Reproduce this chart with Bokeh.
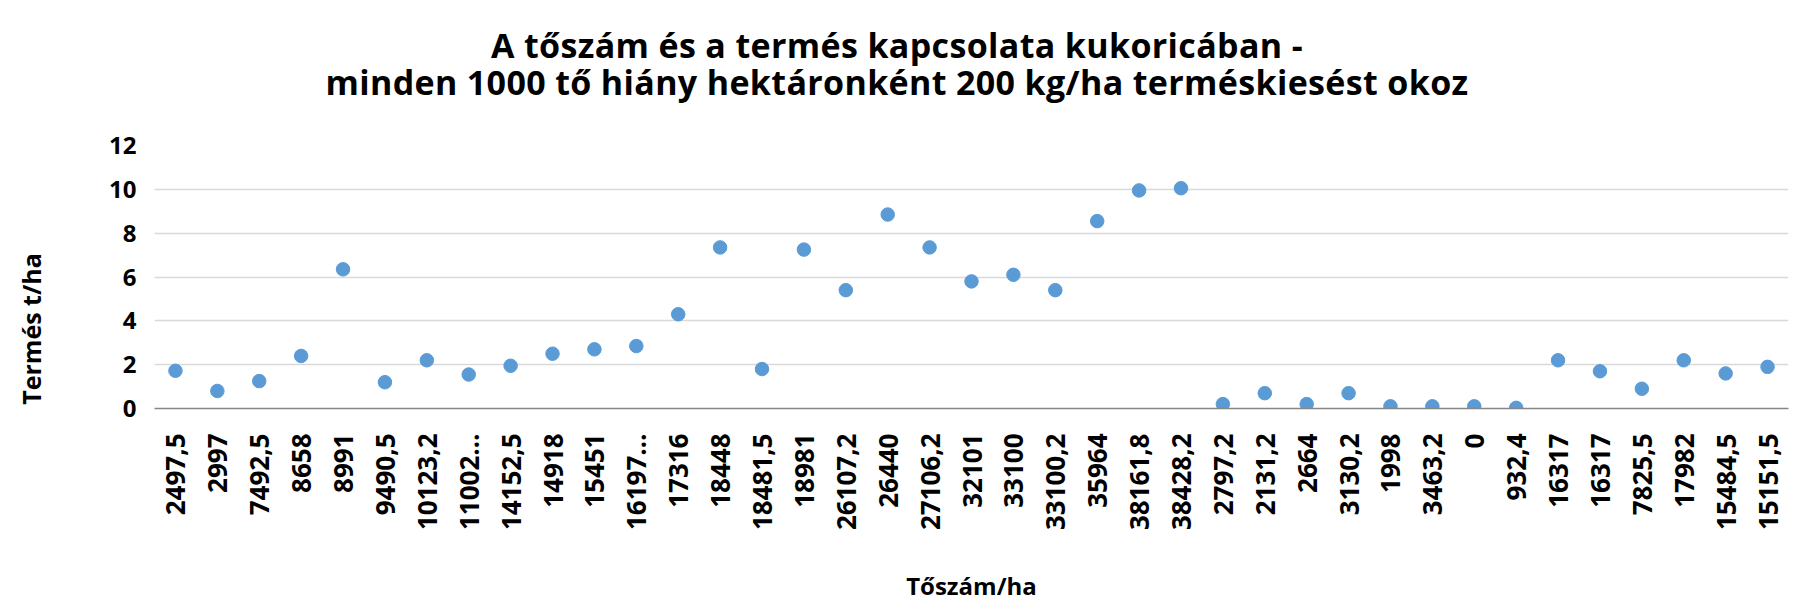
import math
from bokeh.plotting import figure
from bokeh.models import Range1d, FixedTicker, Div
from bokeh.layouts import column
from bokeh.embed import file_html
from bokeh.resources import INLINE

title_lines = [
    "A tőszám és a termés kapcsolata kukoricában -",
    "minden 1000 tő hiány hektáronként 200 kg/ha terméskiesést okoz",
]
x_title = "Tőszám/ha"
y_title = "Termés t/ha"

x_labels = [
    "2497,5", "2997", "7492,5", "8658", "8991", "9490,5", "10123,2", "11002…",
    "14152,5", "14918", "15451", "16197…", "17316", "18448", "18481,5", "18981",
    "26107,2", "26440", "27106,2", "32101", "33100", "33100,2", "35964", "38161,8",
    "38428,2", "2797,2", "2131,2", "2664", "3130,2", "1998", "3463,2", "0",
    "932,4", "16317", "16317", "7825,5", "17982", "15484,5", "15151,5",
]
yields = [
    1.72, 0.8, 1.25, 2.4, 6.35, 1.2, 2.2, 1.55,
    1.95, 2.5, 2.7, 2.85, 4.3, 7.35, 1.8, 7.25,
    5.4, 8.85, 7.35, 5.8, 6.1, 5.4, 8.55, 9.95,
    10.05, 0.2, 0.7, 0.2, 0.7, 0.1, 0.1, 0.1,
    0.03, 2.2, 1.7, 0.9, 2.2, 1.6, 1.9,
]
y_ticks = [0, 2, 4, 6, 8, 10, 12]

positions = list(range(len(x_labels)))
FONT = "Open Sans"
W = 1794

title_div = Div(
    text="<br>".join(title_lines),
    width=W, height=110, margin=(0, 0, 0, 0),
    styles={
        "text-align": "center", "font-family": "'Open Sans'", "font-weight": "bold",
        "font-size": "34px", "line-height": "37px", "color": "black",
        "letter-spacing": "0.35px",
        "padding-top": "27px", "box-sizing": "border-box", "width": f"{W}px",
    },
)

p = figure(
    width=W, height=495, output_backend="svg", toolbar_location=None,
    x_range=Range1d(-0.5, len(x_labels) - 0.5), y_range=Range1d(0, 12),
    min_border_left=154, min_border_right=6, min_border_top=35, min_border_bottom=195,
    margin=(0, 0, 0, 0),
)
p.outline_line_color = None
p.background_fill_color = "white"
p.border_fill_color = "white"

p.scatter(positions, yields, size=13.5, color="#5B9BD5", line_color="#5B9BD5")

# grid
p.xgrid.grid_line_color = None
p.ygrid.grid_line_color = "#D9D9D9"
p.ygrid.grid_line_width = 1.5
p.ygrid.ticker = FixedTicker(ticks=y_ticks)

# x axis
xa = p.xaxis[0]
xa.ticker = FixedTicker(ticks=positions)
xa.major_label_overrides = {i: lab for i, lab in enumerate(x_labels)}
xa.major_label_orientation = math.pi / 2
xa.major_tick_line_color = None
xa.minor_tick_line_color = None
xa.axis_line_color = "#868686"
xa.axis_line_width = 1.5
xa.major_label_standoff = 19
xa.major_label_text_font = FONT
xa.major_label_text_font_style = "bold"
xa.major_label_text_font_size = "26px"
xa.major_label_text_color = "black"
xa.axis_label = x_title
xa.axis_label_text_font = FONT
xa.axis_label_text_font_style = "bold"
xa.axis_label_text_font_size = "24px"
xa.axis_label_text_color = "black"
xa.axis_label_standoff = 36

# y axis (label padded at its top end so it sits lower, as in the original)
ya = p.yaxis[0]
ya.ticker = FixedTicker(ticks=y_ticks)
ya.axis_line_color = None
ya.major_tick_line_color = None
ya.minor_tick_line_color = None
ya.major_label_standoff = 12
ya.major_label_text_font = FONT
ya.major_label_text_font_style = "bold"
ya.major_label_text_font_size = "24px"
ya.major_label_text_color = "black"
ya.axis_label = y_title + "\u00a0" * 16
ya.axis_label_text_font = FONT
ya.axis_label_text_font_style = "bold"
ya.axis_label_text_font_size = "25px"
ya.axis_label_text_color = "black"
ya.axis_label_standoff = 58

layout = column(title_div, p, spacing=0, margin=(0, 0, 0, 0))

open("out.html", "w").write(file_html(layout, INLINE))
